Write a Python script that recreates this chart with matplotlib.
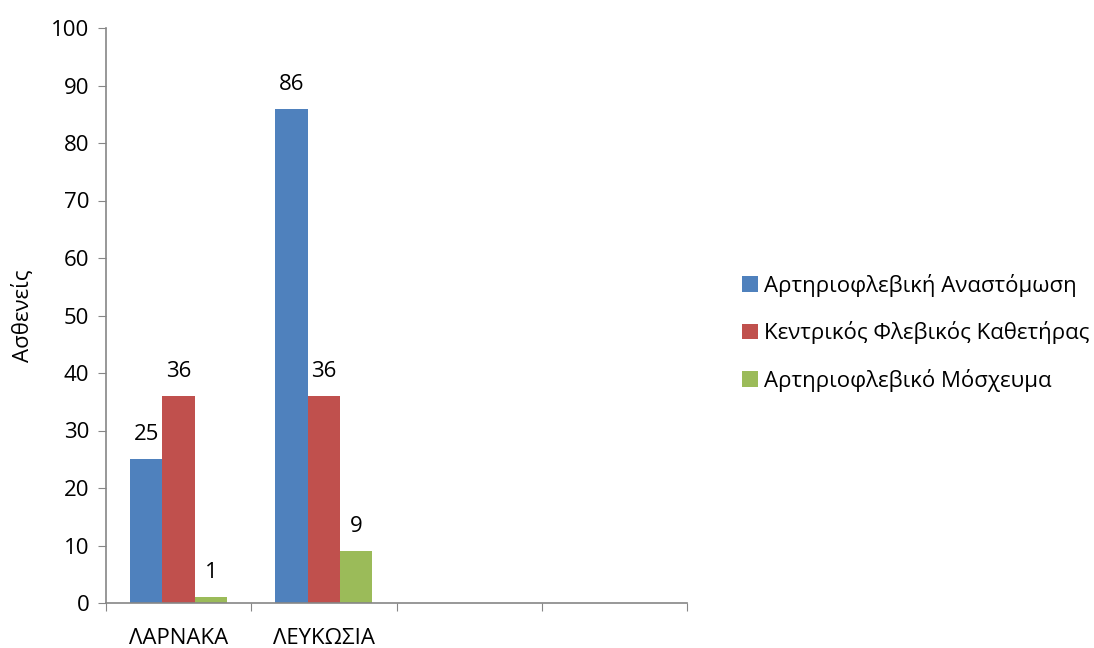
import numpy as np
import matplotlib.pyplot as plt

plt.rcParams['font.family'] = ['Open Sans', 'DejaVu Sans']

# Δεδομένα
poleis = ['ΛΑΡΝΑΚΑ', 'ΛΕΥΚΩΣΙΑ', '', '']
seires = ['Αρτηριοφλεβική Αναστόμωση', 'Κεντρικός Φλεβικός Καθετήρας', 'Αρτηριοφλεβικό Μόσχευμα']
timi_fistula = [25, 86]
timi_kathetiras = [36, 36]
timi_mosxeuma = [1, 9]
xromata = ['#4F81BD', '#C0504D', '#9BBB59']

fs = 16

fig = plt.figure(figsize=(10.94, 6.48), dpi=100)
ax = fig.add_axes([106/1094, 1-603/648, (687-106)/1094, (603-28)/648])

w = 1/4.5
x = np.arange(len(timi_fistula))
for i, (vals, name, col) in enumerate(zip([timi_fistula, timi_kathetiras, timi_mosxeuma], seires, xromata)):
    pos = x + (i - 1) * w
    bars = ax.bar(pos, vals, width=w, color=col, label=name, zorder=2)
    for b, v in zip(bars, vals):
        ax.annotate(str(v), (b.get_x() + b.get_width()/2, v), xytext=(0, 10),
                    textcoords='offset points', ha='center', va='bottom', fontsize=fs)

ax.set_xlim(-0.5, len(poleis) - 0.5)
ax.set_ylim(0, 100)
ax.set_yticks(np.arange(0, 101, 10))
ax.set_xticks(np.arange(len(poleis) + 1) - 0.5)
ax.set_xticklabels([])
ax.set_xticks(np.arange(len(poleis)), minor=True)
ax.set_xticklabels(poleis, minor=True)
ax.tick_params(axis='x', which='minor', length=0, pad=18, labelsize=fs)
ax.tick_params(axis='both', which='major', length=6, color='#868686', labelsize=fs)
ax.tick_params(axis='y', pad=6)

for s in ['top', 'right']:
    ax.spines[s].set_visible(False)
for s in ['left', 'bottom']:
    ax.spines[s].set_color('#868686')
    ax.spines[s].set_linewidth(1.2)

ax.set_ylabel('Ασθενείς', fontsize=fs, labelpad=12)

fig.legend(loc='center left', bbox_to_anchor=(722/1094, 1-333/648), frameon=False,
           fontsize=fs, handlelength=0.7, handleheight=0.7, handletextpad=0.3,
           labelspacing=1.1)

fig.savefig('out.png', dpi=100)
